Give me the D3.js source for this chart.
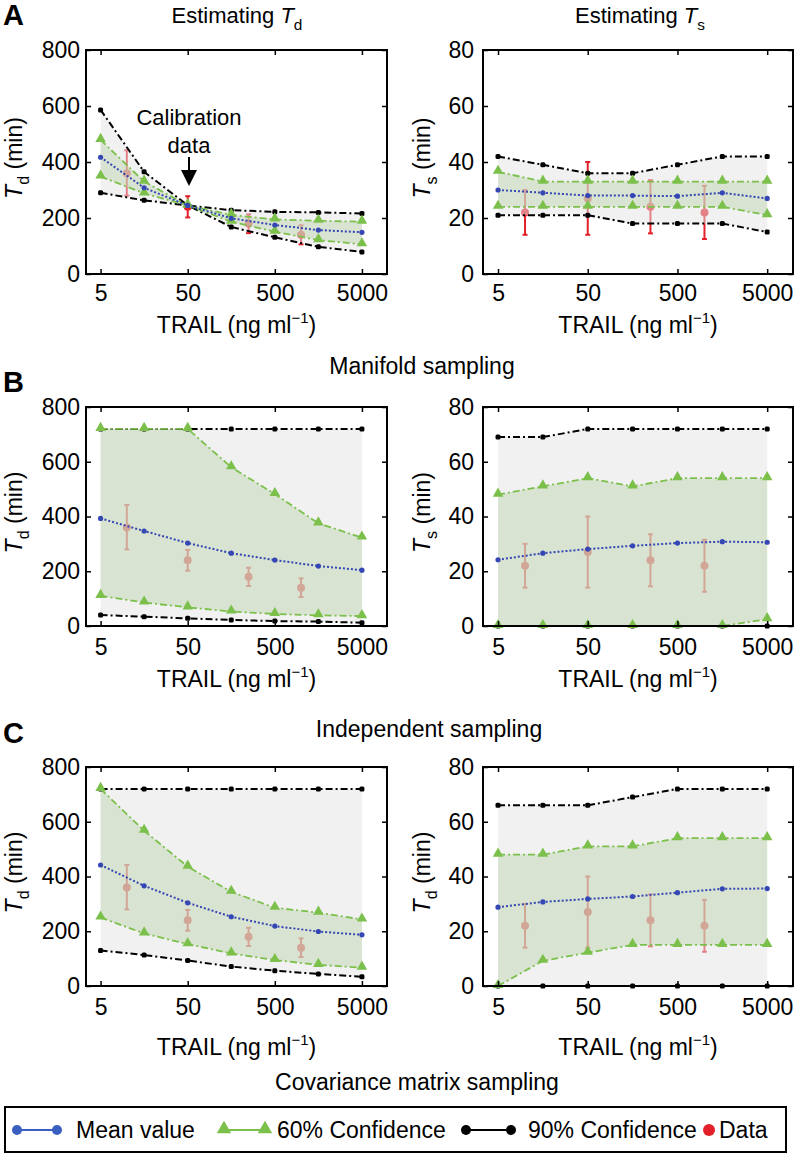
<!DOCTYPE html>
<html><head><meta charset="utf-8">
<script src="https://cdn.jsdelivr.net/npm/d3@7"></script>
<style>
html,body{margin:0;padding:0;background:#fff;}
svg{display:block;font-family:"Liberation Sans",Arial,Helvetica,sans-serif;}
</style></head>
<body>
<svg id="chart" width="796" height="1154"></svg>
<script>
// ---------- DATA ----------
const doses = [5, 15.8, 50, 158, 500, 1581, 5000];
const xTickValues = [5, 50, 500, 5000];
const tdTicks = [0, 200, 400, 600, 800];
const tsTicks = [0, 20, 40, 60, 80];

const dataDoses = [10, 50, 250, 1000];
const tdData = [360, 240, 180, 140];
const tdDataLow = [280, 202, 146, 106];
const tdDataHigh = [442, 278, 213, 174];
const tsData = [22, 27, 24, 22];
const tsDataLow = [14, 14, 14.5, 12.5];
const tsDataHigh = [30, 40, 33.5, 31.5];

// A: estimating
const aTdMean = [417, 308, 245, 199, 175, 157, 149];
const aTd60a  = [479, 330, 245, 187, 151, 121, 106];
const aTd60b  = [348, 288, 245, 211, 195, 190, 187];
const aTd90a  = [586, 365, 245, 168, 131, 97, 79];
const aTd90b  = [290, 263, 245, 228, 222, 220, 216];
const aTsMean = [30, 29, 28, 28, 27.8, 29, 27];
const aTs60a  = [36.5, 33, 33, 33, 33, 33, 33];
const aTs60b  = [24, 24, 24, 24, 24, 24, 21];
const aTs90a  = [42, 39, 36, 36, 39, 42, 42];
const aTs90b  = [21, 21, 21, 18, 18, 18, 15];
// B: manifold sampling
const bTdMean = [393, 347, 303, 266, 241, 219, 204];
const bTd60a  = [720, 720, 720, 580, 482, 375, 323];
const bTd60b  = [110, 86, 68, 53, 44, 39, 36];
const bTd90a  = [720, 720, 720, 720, 720, 720, 720];
const bTd90b  = [40, 34, 28, 22, 18, 16, 12];
const bTsMean = [24.2, 26.6, 28.1, 29.3, 30.3, 30.8, 30.6];
const bTs60a  = [48, 51, 54, 51, 54, 54, 54];
const bTs60b  = [0, 0, 0, 0, 0, 0, 2.5];
const bTs90a  = [69, 69, 72, 72, 72, 72, 72];
const bTs90b  = [0, 0, 0, 0, 0, 0, 0];
// C: independent sampling
const cTdMean = [442, 366, 304, 253, 219, 199, 187];
const cTd60a  = [720, 567, 436, 344, 286, 268, 243];
const cTd60b  = [250, 192, 153, 119, 95, 77, 67];
const cTd90a  = [720, 720, 720, 720, 720, 720, 720];
const cTd90b  = [130, 113, 93, 71, 56, 44, 34];
const cTsMean = [28.8, 30.7, 31.8, 32.7, 34.1, 35.5, 35.6];
const cTs60a  = [48, 48, 51, 51, 54, 54, 54];
const cTs60b  = [0, 9.2, 12.2, 15, 15, 15, 15];
const cTs90a  = [66, 66, 66, 69, 72, 72, 72];
const cTs90b  = [0, 0, 0, 0, 0, 0, 0];

const legendLabels = ["Mean value", "60% Confidence", "90% Confidence", "Data"];

// ---------- STYLE / LAYOUT ----------
const FS = 23;
const C_BLUE = "#3447b4", C_GREEN = "#7cc04c", C_BLACK = "#000", C_RED = "#e3202a";
const cols = [{x0: 86, x1: 387, tickPad: 6, ylabX: 22}, {x0: 483, x1: 793, tickPad: 9, ylabX: 430}];
const rows = [{y0: 50, y1: 274, xPad: 11, xlabY: 333},
              {y0: 407, y1: 626, xPad: 13, xlabY: 687},
              {y0: 767, y1: 986, xPad: 13, xlabY: 1055}];

const panels = [
  {r:0,c:0,max:800,ticks:tdTicks,sub:"d",mean:aTdMean,a60:aTd60a,b60:aTd60b,a90:aTd90a,b90:aTd90b,d:tdData,lo:tdDataLow,hi:tdDataHigh},
  {r:0,c:1,max:80,ticks:tsTicks,sub:"s",mean:aTsMean,a60:aTs60a,b60:aTs60b,a90:aTs90a,b90:aTs90b,d:tsData,lo:tsDataLow,hi:tsDataHigh},
  {r:1,c:0,max:800,ticks:tdTicks,sub:"d",mean:bTdMean,a60:bTd60a,b60:bTd60b,a90:bTd90a,b90:bTd90b,d:tdData,lo:tdDataLow,hi:tdDataHigh},
  {r:1,c:1,max:80,ticks:tsTicks,sub:"s",mean:bTsMean,a60:bTs60a,b60:bTs60b,a90:bTs90a,b90:bTs90b,d:tsData,lo:tsDataLow,hi:tsDataHigh},
  {r:2,c:0,max:800,ticks:tdTicks,sub:"d",mean:cTdMean,a60:cTd60a,b60:cTd60b,a90:cTd90a,b90:cTd90b,d:tdData,lo:tdDataLow,hi:tdDataHigh},
  {r:2,c:1,max:80,ticks:tsTicks,sub:"d",mean:cTsMean,a60:cTs60a,b60:cTs60b,a90:cTs90a,b90:cTs90b,d:tsData,lo:tsDataLow,hi:tsDataHigh}
];

const svg = d3.select("#chart");

function rich(sel, parts, fs) {
  parts.forEach(p => {
    const ts = sel.append("tspan").text(p.t);
    if (p.i) ts.attr("font-style", "italic");
    if (p.size) ts.attr("font-size", fs * p.size);
    if (p.dy) ts.attr("dy", fs * p.dy);
  });
  return sel;
}

panels.forEach(p => {
  const col = cols[p.c], row = rows[p.r];
  const x = d3.scaleLog().domain([3.4, 9700]).range([col.x0, col.x1]);
  const y = d3.scaleLinear().domain([0, p.max]).range([row.y1, row.y0]);
  const g = svg.append("g");
  const idx = d3.range(doses.length);

  // data (drawn first, shaded areas lie over it)
  const dg = g.append("g").attr("stroke", C_RED).attr("fill", C_RED);
  dataDoses.forEach((dx, i) => {
    const cx = x(dx);
    dg.append("line").attr("x1", cx).attr("x2", cx).attr("y1", y(p.lo[i])).attr("y2", y(p.hi[i])).attr("stroke-width", 2);
    [p.lo[i], p.hi[i]].forEach(v => dg.append("line").attr("x1", cx - 2.5).attr("x2", cx + 2.5).attr("y1", y(v)).attr("y2", y(v)).attr("stroke-width", 2));
    dg.append("circle").attr("cx", cx).attr("cy", y(p.d[i])).attr("r", 4).attr("stroke", "none");
  });

  // shaded areas
  const area = (a, b) => d3.area().x(i => x(doses[i])).y0(i => y(b[i])).y1(i => y(a[i]))(idx);
  g.append("path").attr("d", area(p.a90, p.b90)).attr("fill", "#e4e4e4").attr("fill-opacity", 0.5);
  g.append("path").attr("d", area(p.a60, p.b60)).attr("fill", "#bcd3ab").attr("fill-opacity", 0.45);

  // lines
  const line = arr => d3.line().x(i => x(doses[i])).y(i => y(arr[i]))(idx);
  [p.a90, p.b90].forEach(arr => {
    g.append("path").attr("d", line(arr)).attr("fill", "none").attr("stroke", C_BLACK).attr("stroke-width", 2).attr("stroke-dasharray", "7,3,2,3");
    g.selectAll(null).data(idx).join("rect").attr("x", i => x(doses[i]) - 2.5).attr("y", i => y(arr[i]) - 2.5).attr("width", 5).attr("height", 5).attr("rx", 1.5).attr("fill", C_BLACK);
  });
  [p.a60, p.b60].forEach(arr => {
    g.append("path").attr("d", line(arr)).attr("fill", "none").attr("stroke", C_GREEN).attr("stroke-width", 1.8).attr("stroke-dasharray", "7,3,2,3");
    g.selectAll(null).data(idx).join("path").attr("d", d3.symbol(d3.symbolTriangle, 48)).attr("transform", i => `translate(${x(doses[i])},${y(arr[i]) - 1})`).attr("fill", C_GREEN);
  });
  g.append("path").attr("d", line(p.mean)).attr("fill", "none").attr("stroke", C_BLUE).attr("stroke-width", 2).attr("stroke-dasharray", "2,2");
  g.selectAll(null).data(idx).join("circle").attr("cx", i => x(doses[i])).attr("cy", i => y(p.mean[i])).attr("r", 2.6).attr("fill", C_BLUE);

  // axes with inward ticks
  const styleAx = s => { s.select(".domain").remove(); s.selectAll("line").attr("stroke", "#000").attr("stroke-width", 1.5); s.selectAll("text").attr("font-size", FS).attr("fill", "#000").attr("font-family", '"Liberation Sans",Arial,sans-serif'); };
  g.append("g").attr("transform", `translate(0,${row.y1})`).call(d3.axisBottom(x).tickValues(xTickValues).tickFormat(d3.format("d")).tickSize(-5).tickPadding(row.xPad)).call(styleAx);
  g.append("g").attr("transform", `translate(0,${row.y0})`).call(d3.axisTop(x).tickValues(xTickValues).tickFormat("").tickSize(-5)).call(styleAx);
  g.append("g").attr("transform", `translate(${col.x0},0)`).call(d3.axisLeft(y).tickValues(p.ticks).tickSize(-5).tickPadding(col.tickPad)).call(styleAx);
  g.append("g").attr("transform", `translate(${col.x1},0)`).call(d3.axisRight(y).tickValues(p.ticks).tickFormat("").tickSize(-5)).call(styleAx);

  g.append("rect").attr("x", col.x0).attr("y", row.y0).attr("width", col.x1 - col.x0).attr("height", row.y1 - row.y0).attr("fill", "none").attr("stroke", "#000").attr("stroke-width", 2);

  // axis labels
  rich(g.append("text").attr("x", (col.x0 + col.x1) / 2).attr("y", row.xlabY).attr("text-anchor", "middle").attr("font-size", FS),
    [{t: "TRAIL (ng ml"}, {t: "\u22121", size: 0.65, dy: -0.45}, {t: ")", dy: 0.45}], FS);
  const cy = (row.y0 + row.y1) / 2 - 4;
  rich(g.append("text").attr("transform", `translate(${col.ylabX},${cy}) rotate(-90)`).attr("text-anchor", "middle").attr("font-size", FS),
    [{t: "T", i: true}, {t: p.sub, size: 0.7, dy: 0.3}, {t: " (min)", dy: -0.3}], FS);
});

// titles
rich(svg.append("text").attr("x", 237).attr("y", 23).attr("text-anchor", "middle").attr("font-size", 22),
  [{t: "Estimating "}, {t: "T", i: true}, {t: "d", size: 0.7, dy: 0.3}], 22);
rich(svg.append("text").attr("x", 640).attr("y", 23).attr("text-anchor", "middle").attr("font-size", 22),
  [{t: "Estimating "}, {t: "T", i: true}, {t: "s", size: 0.7, dy: 0.3}], 22);
svg.append("text").attr("x", 422).attr("y", 374).attr("text-anchor", "middle").attr("font-size", FS).text("Manifold sampling");
svg.append("text").attr("x", 429).attr("y", 737).attr("text-anchor", "middle").attr("font-size", FS).text("Independent sampling");
svg.append("text").attr("x", 417).attr("y", 1090).attr("text-anchor", "middle").attr("font-size", FS).text("Covariance matrix sampling");

// panel letters
[["A", 25], ["B", 392], ["C", 743]].forEach(([t, yy]) =>
  svg.append("text").attr("x", 3).attr("y", yy).attr("font-size", 29).attr("font-weight", "bold").text(t));

// calibration annotation
svg.append("text").attr("x", 189).attr("y", 125).attr("text-anchor", "middle").attr("font-size", 22).text("Calibration");
svg.append("text").attr("x", 189).attr("y", 153).attr("text-anchor", "middle").attr("font-size", 22).text("data");
svg.append("line").attr("x1", 189).attr("x2", 189).attr("y1", 157).attr("y2", 172).attr("stroke", "#000").attr("stroke-width", 2);
svg.append("path").attr("d", "M181,170 L197,170 L189,186 Z").attr("fill", "#000");

// legend
const lg = svg.append("g");
lg.append("rect").attr("x", 5).attr("y", 1107).attr("width", 781).attr("height", 45).attr("fill", "#fff").attr("stroke", "#000").attr("stroke-width", 2);
const ly = 1130;
lg.append("line").attr("x1", 17).attr("x2", 57).attr("y1", ly).attr("y2", ly).attr("stroke", "#3a5fc0").attr("stroke-width", 2);
[17, 57].forEach(cx => lg.append("circle").attr("cx", cx).attr("cy", ly).attr("r", 5).attr("fill", "#3a5fc0"));
lg.append("line").attr("x1", 224).attr("x2", 265).attr("y1", ly).attr("y2", ly).attr("stroke", C_GREEN).attr("stroke-width", 2);
[224, 265].forEach(cx => lg.append("path").attr("d", d3.symbol(d3.symbolTriangle, 90)).attr("transform", `translate(${cx},${ly - 1})`).attr("fill", C_GREEN));
lg.append("line").attr("x1", 466).attr("x2", 511).attr("y1", ly).attr("y2", ly).attr("stroke", "#000").attr("stroke-width", 2);
[466, 511].forEach(cx => lg.append("circle").attr("cx", cx).attr("cy", ly).attr("r", 5).attr("fill", "#000"));
lg.append("circle").attr("cx", 709).attr("cy", ly).attr("r", 6).attr("fill", C_RED);
[[76, 0], [277, 1], [528, 2], [719, 3]].forEach(([xx, i]) =>
  lg.append("text").attr("x", xx).attr("y", ly + 8).attr("font-size", FS).text(legendLabels[i]));
</script>
</body></html>
